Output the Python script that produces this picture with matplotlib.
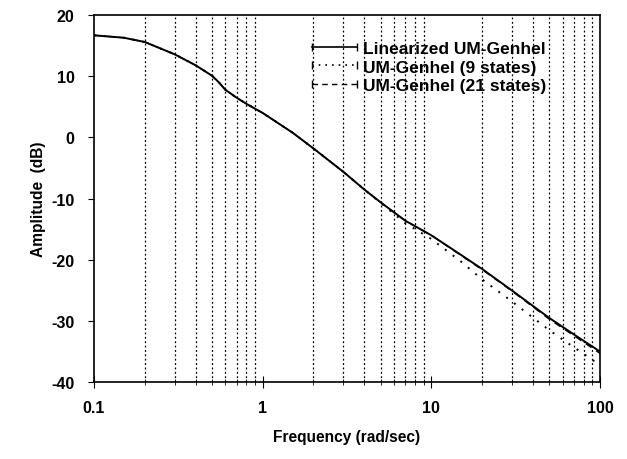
import numpy as np
import matplotlib.pyplot as plt
from matplotlib.lines import Line2D
from matplotlib.ticker import LogLocator, NullFormatter, FixedLocator

plt.rcParams['font.family'] = ['Liberation Sans', 'DejaVu Sans']
plt.rcParams['font.weight'] = 'bold'
plt.rcParams['axes.unicode_minus'] = False

# frequency (rad/sec) and amplitude (dB)
freq = [0.1, 0.15, 0.2, 0.3, 0.4, 0.5, 0.55, 0.6, 0.7, 0.8, 1.0, 1.5, 2.0, 3.0,
        4.0, 5.0, 7.0, 10.0, 15.0, 20.0, 30.0, 50.0, 70.0, 100.0]
amp_linear = [16.7, 16.3, 15.6, 13.6, 11.8, 10.1, 9.0, 7.8, 6.5, 5.5, 4.0, 0.8,
              -1.8, -5.6, -8.5, -10.6, -13.6, -16.0, -19.2, -21.5, -25.0, -29.5,
              -32.2, -35.0]
amp_9 = [16.7, 16.3, 15.6, 13.6, 11.8, 10.1, 9.0, 7.8, 6.5, 5.5, 4.0, 0.8,
         -1.8, -5.6, -8.5, -10.7, -14.0, -16.6, -20.3, -23.2, -26.8, -31.5,
         -34.3, -37.2]
amp_21 = [16.7, 16.3, 15.6, 13.6, 11.8, 10.1, 9.0, 7.8, 6.5, 5.5, 4.0, 0.8,
          -1.8, -5.6, -8.5, -10.6, -13.6, -16.0, -19.3, -21.6, -25.1, -29.7,
          -32.4, -35.3]
labels = ["Linearized UM-Genhel", "UM-Genhel (9 states)", "UM-Genhel (21 states)"]

fig = plt.figure(figsize=(6.27, 4.6), dpi=100)
ax = fig.add_axes([0.150, 0.167, 0.807, 0.798])

ax.plot(freq, amp_linear, color="black", lw=1.4, ls="-")
ax.plot(freq, amp_9, color="black", lw=1.4, ls=(0, (1, 4)))
ax.plot(freq, amp_21, color="black", lw=1.0, ls=(0, (5, 4)))

ax.set_xscale("log")
ax.set_xlim(0.1, 100)
ax.set_ylim(-40, 20)
ax.set_yticks(np.arange(-40, 21, 10))
ax.xaxis.set_major_locator(FixedLocator([0.1, 1, 10, 100]))
ax.set_xticklabels(["0.1", "1", "10", "100"])
ax.xaxis.set_minor_locator(LogLocator(base=10, subs=np.arange(2, 10)))
ax.xaxis.set_minor_formatter(NullFormatter())
ax.grid(True, which="minor", axis="x", color="black", ls=(0, (1.5, 2)), lw=0.9)

ax.tick_params(axis="x", which="major", direction="inout", length=8, labelsize=11.5, pad=9)
ax.tick_params(axis="x", which="minor", direction="inout", length=5)
ax.tick_params(axis="y", which="major", direction="out", length=4, labelsize=11.5, pad=10)
for s in ax.spines.values():
    s.set_linewidth(1.2)

ax.set_xlabel("Frequency (rad/sec)", fontsize=11.2, fontweight="bold", labelpad=10)
ax.set_ylabel("Amplitude  (dB)", fontsize=11.2, fontweight="bold", labelpad=4)

handles = [
    Line2D([], [], color="black", lw=1.2, ls="-", marker="|", markersize=6),
    Line2D([], [], color="black", lw=1.2, ls=(0, (1, 3)), marker="|", markersize=6),
    Line2D([], [], color="black", lw=1.0, ls=(0, (4, 3)), marker="|", markersize=6),
]
ax.legend(handles, labels, loc="upper left", frameon=False, fontsize=12.5,
          numpoints=2, handlelength=3.2, handletextpad=0.05, labelspacing=0.2,
          borderpad=0, borderaxespad=0, bbox_to_anchor=(0.42, 0.93))

fig.savefig("out.png", dpi=100)
